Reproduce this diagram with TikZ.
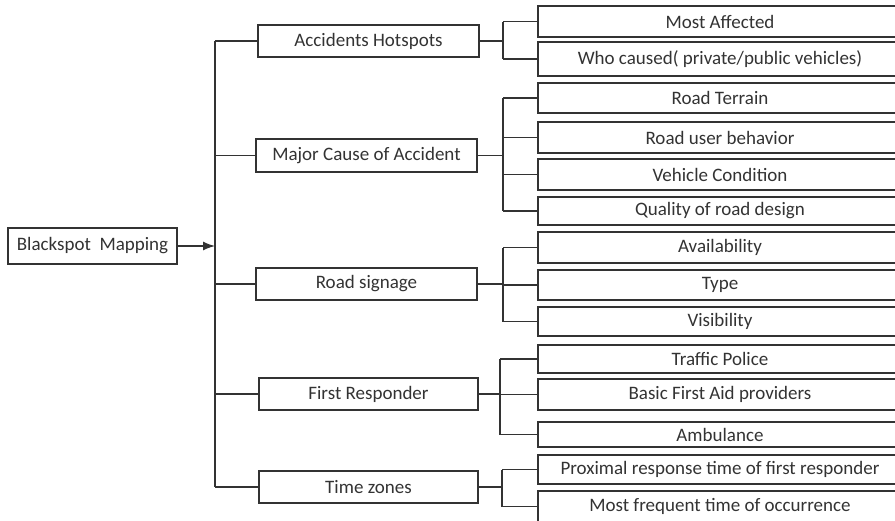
\documentclass[tikz,border=0pt]{standalone}
\usepackage{fontspec}
\setmainfont{Carlito}
\usetikzlibrary{arrows.meta,calc}
\begin{document}
\begin{tikzpicture}[x=1pt,y=-1pt,
  line join=miter,
  conn/.style={draw=black!80, line width=1.3pt},
  box/.style={draw=black!80, line width=1.5pt, fill=white, rectangle, inner sep=0pt,
    text=black!80, font=\fontsize{19}{22}\selectfont},
  lvlone/.style={box, minimum width=221pt, minimum height=32pt},
  lvltwo/.style={box, minimum width=364pt, minimum height=30pt}]
\useasboundingbox (0,0) rectangle (895,520);
\clip (0,0) rectangle (895,520);
\fill[white] (0,0) rectangle (895,520);

% root
\node[box, minimum width=169pt, minimum height=36pt] (root) at (92.5,246) {Blackspot\ \ Mapping};

% level one
\node[lvlone] (a1) at (368.5,41) {Accidents Hotspots};
\node[lvlone, minimum height=33pt] (a2) at (366.5,155.5) {Major Cause of Accident};
\node[lvlone] (a3) at (366.5,284) {Road signage};
\node[lvlone, minimum width=219pt] (a4) at (368.5,394) {First Responder};
\node[lvlone, minimum width=219pt] (a5) at (368.5,487) {Time zones};

% level two
\node[lvltwo, minimum height=31pt] (b1) at (720,21.5) {Most Affected};
\node[lvltwo, minimum height=34pt] (b2) at (720,59) {Who caused( private/public vehicles)};
\node[lvltwo] (c1) at (720,98) {Road Terrain};
\node[lvltwo, minimum height=31pt] (c2) at (720,137.5) {Road user behavior};
\node[lvltwo, minimum height=31pt] (c3) at (720,174.5) {Vehicle Condition};
\node[lvltwo, minimum height=28pt] (c4) at (720,211) {Quality of road design};
\node[lvltwo, minimum height=31pt] (d1) at (720,247.5) {Availability};
\node[lvltwo] (d2) at (720,285) {Type};
\node[lvltwo, minimum height=29pt] (d3) at (720,321.5) {Visibility};
\node[lvltwo, minimum height=28pt] (e1) at (720,359) {Traffic Police};
\node[lvltwo, minimum height=31pt] (e2) at (720,394.5) {Basic First Aid providers};
\node[lvltwo, minimum height=25pt] (e3) at (720,434.5) {Ambulance};
\node[lvltwo, minimum height=29pt] (f1) at (720,469.5) {Proximal response time of first responder};
\node[lvltwo, minimum height=31pt] (f2) at (720,506.5) {Most frequent time of occurrence};

% trunk and bus positions
\coordinate (trunk) at (215,0);
\coordinate (busa) at (503,0);
\coordinate (busb) at (503,0);
\coordinate (busc) at (503,0);
\coordinate (busd) at (500,0);
\coordinate (buse) at (502,0);

% root arrow
\draw[conn, -{Latex[length=12pt,width=9pt]}] (root.east) -- (root.east -| trunk);

% trunk
\draw[conn] (a1.west -| trunk) -- (a5.west -| trunk);
\foreach \n in {a1,a2,a3,a4,a5} {
  \draw[conn] (\n.west -| trunk) -- (\n.west);
}

% group 1
\draw[conn] (a1.east) -- (a1.east -| busa);
\draw[conn] (b1.west -| busa) -- (b2.west -| busa);
\foreach \n in {b1,b2} { \draw[conn] (\n.west -| busa) -- (\n.west); }

% group 2
\draw[conn] (a2.east) -- (a2.east -| busb);
\draw[conn] (c1.west -| busb) -- (c4.west -| busb);
\foreach \n in {c1,c2,c3,c4} { \draw[conn] (\n.west -| busb) -- (\n.west); }

% group 3
\draw[conn] (a3.east) -- (a3.east -| busc);
\draw[conn] (d1.west -| busc) -- (d3.west -| busc);
\foreach \n in {d1,d2,d3} { \draw[conn] (\n.west -| busc) -- (\n.west); }

% group 4
\draw[conn] (a4.east) -- (a4.east -| busd);
\draw[conn] (e1.west -| busd) -- (e3.west -| busd);
\foreach \n in {e1,e2,e3} { \draw[conn] (\n.west -| busd) -- (\n.west); }

% group 5
\draw[conn] (a5.east) -- (a5.east -| buse);
\draw[conn] (f1.west -| buse) -- (f2.west -| buse);
\foreach \n in {f1,f2} { \draw[conn] (\n.west -| buse) -- (\n.west); }
\end{tikzpicture}
\end{document}
